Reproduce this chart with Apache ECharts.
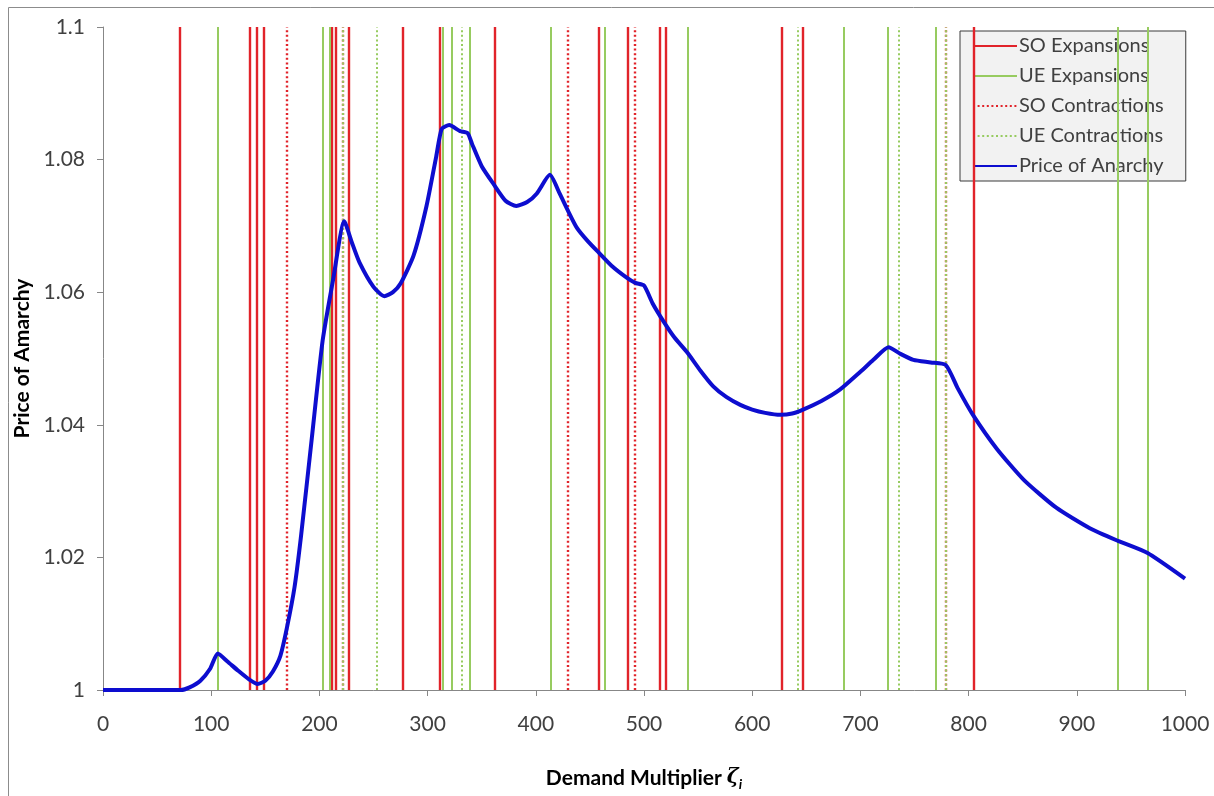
<!DOCTYPE html>
<html>
<head>
<meta charset="utf-8">
<script src="https://cdn.jsdelivr.net/npm/echarts@6/dist/echarts.min.js"></script>
<style>
html,body{margin:0;padding:0;background:#fff;}
#chart{width:1214px;height:796px;}
</style>
</head>
<body>
<div id="chart"></div>
<script>
// ---- data ----
const soExpansions   = [71, 136, 142.5, 149, 211, 215, 227, 277, 311, 362, 458, 485, 515, 520, 627.5, 646.5, 805];
const ueExpansions   = [106, 203, 210, 314, 322, 339, 414, 463.5, 540.5, 684.5, 725.5, 770, 938, 966];
const soContractions = [170, 222, 429.5, 491.5, 779];
const ueContractions = [222, 253, 331.5, 642, 735.5, 779];

const poaX = [0, 72, 80, 90, 99, 106, 115, 125, 135, 143, 150, 157, 164, 170, 177, 183, 193, 203, 213, 223,
  230, 237, 250, 260, 268, 275, 287, 299, 308, 313, 320, 330, 337, 341, 350, 361, 372, 382, 392, 401, 413,
  422, 430, 438, 448, 458, 470, 484, 492, 500, 508, 518, 528, 540, 552, 564, 576, 589, 600, 612, 626, 637,
  647, 664, 681, 700, 712, 726, 737, 749, 765, 779, 790, 804, 826, 851, 881, 912, 938, 965, 1000];
const poaY = [1.0, 1.0, 1.0004, 1.0014, 1.0032, 1.0055, 1.0043, 1.0029, 1.0016, 1.0009, 1.0014, 1.0028, 1.0052, 1.0094, 1.0155, 1.0232, 1.0380, 1.0527, 1.0622, 1.0707,
  1.0675, 1.0645, 1.0608, 1.0594, 1.0600, 1.0613, 1.0655, 1.0730, 1.0805, 1.0846, 1.0852, 1.0843, 1.0840, 1.0824, 1.0790, 1.0763, 1.0738, 1.0730, 1.0736, 1.0749, 1.0777,
  1.0749, 1.0722, 1.0697, 1.0677, 1.0660, 1.0640, 1.0622, 1.0614, 1.0610, 1.0583, 1.0556, 1.0532, 1.0509, 1.0482, 1.0458, 1.0442, 1.0430, 1.0423, 1.0418, 1.0415, 1.0417,
  1.0423, 1.0436, 1.0453, 1.0480, 1.0498, 1.0517, 1.0507, 1.0498, 1.0494, 1.0490, 1.0455, 1.0415, 1.0364, 1.0317, 1.0275, 1.0244, 1.0225, 1.0207, 1.0168];

const yTickLabels = ['1', '1.02', '1.04', '1.06', '1.08', '1.1'];
const xTickLabels = ['0','100','200','300','400','500','600','700','800','900','1000'];

// ---- styles ----
const RED = '#e1232a';
const GREEN = '#97cb60';
const BLUE = '#0d0dcf';
const FONT = 'Lato, "Open Sans", sans-serif';
const DOT = [2, 2.6];

function vlineSeries(name, xs, color, type, width) {
  return {
    name: name,
    type: 'line',
    data: [],
    symbol: 'none',
    lineStyle: { color: color, width: 2, type: type },
    itemStyle: { color: color },
    markLine: {
      silent: true,
      symbol: ['none', 'none'],
      label: { show: false },
      animation: false,
      emphasis: { disabled: true },
      lineStyle: { color: color, width: width, type: type },
      data: xs.map(x => ({ xAxis: x }))
    }
  };
}

const chart = echarts.init(document.getElementById('chart'), null, { renderer: 'canvas' });
chart.setOption({
  animation: false,
  backgroundColor: '#ffffff',
  textStyle: { fontFamily: FONT },
  graphic: [{
    type: 'rect', silent: true, z: -10,
    shape: { x: 8.5, y: 7.5, width: 1300, height: 900 },
    style: { fill: 'none', stroke: '#8c8c8c', lineWidth: 1 }
  }],
  grid: { left: 103, right: 29, top: 27, bottom: 84 },
  legend: {
    orient: 'vertical',
    left: 960, top: 31,
    itemWidth: 44, itemHeight: 14, itemGap: 10,
    padding: [5, 22, 5, 12],
    backgroundColor: '#f2f2f2',
    borderColor: '#3a3a3a', borderWidth: 1, borderRadius: 0,
    itemStyle: { opacity: 0 },
    textStyle: { fontFamily: FONT, fontSize: 20, color: '#404040', padding: [0, 0, 0, -3] },
    data: ['SO Expansions', 'UE Expansions', 'SO Contractions', 'UE Contractions', 'Price of Anarchy']
  },
  xAxis: {
    type: 'value', min: 0, max: 1000, interval: 100,
    name: '{a|Demand Multiplier }{b|ζ}{c|i}',
    nameLocation: 'middle', nameGap: 75,
    nameTextStyle: {
      rich: {
        a: { fontFamily: FONT, fontSize: 21, fontWeight: 'bold', color: '#000' },
        b: { fontFamily: 'DejaVu Serif, serif', fontSize: 20, fontWeight: 'bold', fontStyle: 'italic', color: '#000' },
        c: { fontFamily: FONT, fontSize: 14, fontWeight: 'bold', fontStyle: 'italic', color: '#000', padding: [12, 0, 0, 0] }
      }
    },
    axisLine: { lineStyle: { color: '#878787', width: 1 } },
    axisTick: { show: true, length: 6, lineStyle: { color: '#878787' } },
    axisLabel: { fontFamily: FONT, fontSize: 21, color: '#404040', margin: 24,
      formatter: v => xTickLabels[Math.round(v / 100)] },
    splitLine: { show: false }
  },
  yAxis: {
    type: 'value', min: 1, max: 1.1, interval: 0.02,
    name: 'Price of Amarchy',
    nameLocation: 'middle', nameGap: 66,
    nameTextStyle: { fontFamily: FONT, fontSize: 21, fontWeight: 'bold', color: '#000' },
    axisLine: { show: true, lineStyle: { color: '#878787', width: 1 } },
    axisTick: { show: true, length: 6, lineStyle: { color: '#878787' } },
    axisLabel: { fontFamily: FONT, fontSize: 21, color: '#404040', margin: 18,
      formatter: v => yTickLabels[Math.round((v - 1) / 0.02)] },
    splitLine: { show: false }
  },
  series: [
    vlineSeries('SO Expansions', soExpansions, RED, 'solid', 2.4),
    vlineSeries('UE Expansions', ueExpansions, GREEN, 'solid', 2),
    vlineSeries('SO Contractions', soContractions, RED, DOT, 2.4),
    vlineSeries('UE Contractions', ueContractions, GREEN, DOT, 2),
    {
      name: 'Price of Anarchy',
      type: 'line',
      z: 5,
      symbol: 'none',
      smooth: 0.2,
      lineStyle: { color: BLUE, width: 4 },
      itemStyle: { color: BLUE },
      data: poaX.map((x, i) => [x, poaY[i]])
    }
  ]
});
</script>
</body>
</html>
